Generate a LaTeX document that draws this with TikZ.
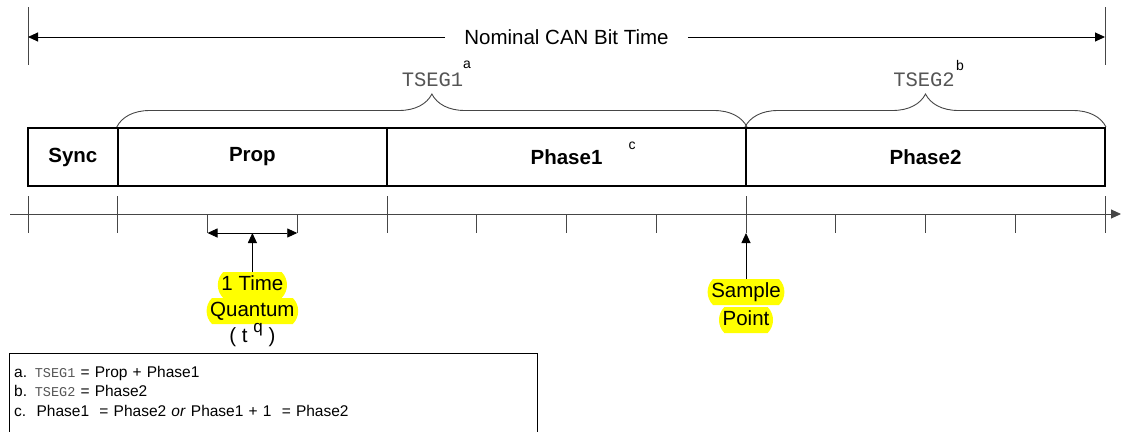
\documentclass[tikz,border=0pt]{standalone}
\usepackage{fontspec}
\setmainfont{Liberation Sans}
\setmonofont{Liberation Mono}
\usetikzlibrary{arrows.meta,positioning,decorations.pathreplacing,shapes.misc}
\definecolor{mygray}{RGB}{70,70,70}
\definecolor{mytext}{RGB}{85,85,85}
\definecolor{myyellow}{RGB}{255,255,0}
\newcommand{\lblfont}{\fontsize{20.5}{24}\selectfont}
\newcommand{\supfont}{\fontsize{14}{16}\selectfont}
\newcommand{\notefont}{\fontsize{15.5}{19.5}\selectfont}

\begin{document}
\begin{tikzpicture}[x=1pt, y=-1pt, font=\lblfont,
  seg/.style={draw, line width=2pt, minimum height=58pt, inner sep=0pt,
              font=\lblfont\bfseries},
  axtick/.style={draw=mygray, line width=0.9pt},
  hilite/.style={rounded rectangle, rounded rectangle arc length=90,
                 fill=myyellow, inner xsep=1pt, inner ysep=3.5pt,
                 text height=15pt, text depth=4pt},
  arr/.style={-{Triangle[length=10pt,width=9pt]}, line width=0.9pt},
  dblarr/.style={{Triangle[length=10pt,width=9pt]}-{Triangle[length=10pt,width=9pt]},
                 line width=0.9pt},
  tsbrace/.style={draw=mygray, decorate, decoration={brace, amplitude=33pt},
                  line width=0.9pt}]
  \useasboundingbox (0,0) rectangle (1123,431);

  % Bit time
  \coordinate (bl) at (28,37);
  \coordinate (br) at (1105,37);
  \draw[axtick] (28,7) -- (28,65);
  \draw[axtick] (1105,7) -- (1105,65);
  \node[inner xsep=19pt] (nom) at (566.5,37) {Nominal CAN Bit Time};
  \draw[arr] (nom.west) -- (bl);
  \draw[arr] (nom.east) -- (br);

  % Segments
  \node[seg, minimum width=89.75pt] (sync) at (72.9,157) {Sync};
  \node[seg, minimum width=269.25pt] (prop) at (252.4,157) {Prop};
  \node[seg, minimum width=359pt] (phase1) at (566.5,157) {Phase1};
  \node[seg, minimum width=359pt] (phase2) at (925.5,157) {Phase2};
  \node[font=\supfont] (supc) at (632,146) {c};

  % Braces
  \draw[tsbrace] (prop.north west) -- (phase1.north east);
  \draw[tsbrace] (phase2.north west) -- (phase2.north east);
  \node[font=\ttfamily\lblfont, text=mytext] (tseg1) at (432.5,80) {TSEG1};
  \node[font=\supfont] (supa) at (467,65) {a};
  \node[font=\ttfamily\lblfont, text=mytext] (tseg2) at (924,80) {TSEG2};
  \node[font=\supfont] (supb) at (960,65) {b};

  % Time axis
  \coordinate (axs) at (10,214);
  \coordinate (axe) at (1121,214);
  \draw[axtick, arr] (axs) -- (axe);
  \foreach \i in {0,...,12}{
    \draw[axtick] (28+\i*89.75,214) -- (28+\i*89.75,233);
  }
  \foreach \i in {0,1,4,8,12}{
    \draw[axtick] (28+\i*89.75,196) -- (28+\i*89.75,214);
  }

  % Time quantum
  \coordinate (q1) at (207.5,233);
  \coordinate (q2) at (297.25,233);
  \coordinate (qa) at (252.4,233);
  \draw[dblarr] (q1) -- (q2);
  \node[hilite] (qt1) at (252.4,285) {1 Time};
  \node[hilite] (qt2) at (252.4,311) {Quantum};
  \node (qt3) at (252.4,335) {( t \raisebox{0.45em}{\fontsize{17}{18}\selectfont q} )};
  \draw[arr] (qt1.north) -- (qa);

  % Sample point
  \coordinate (spa) at (746,233);
  \node[hilite] (sp1) at (746,292) {Sample};
  \node[hilite] (sp2) at (746,320) {Point};
  \draw[arr] (sp1.north) -- (spa);

  % Notes
  \draw[line width=0.9pt] (9,445) |- (537,353) -- (537,445);
  \node[anchor=north west, text width=518pt, align=left,
        inner xsep=5pt, inner ysep=0pt, font=\notefont] (notes) at (9,366)
    {a. {\fontsize{13.5}{16}\selectfont\ttfamily\color{mytext}TSEG1} = Prop + Phase1\\
     b. {\fontsize{13.5}{16}\selectfont\ttfamily\color{mytext}TSEG2} = Phase2\\
     c.\ \ Phase1\ \ = Phase2 \textit{or} Phase1 + 1\ \ = Phase2};
\end{tikzpicture}
\end{document}
